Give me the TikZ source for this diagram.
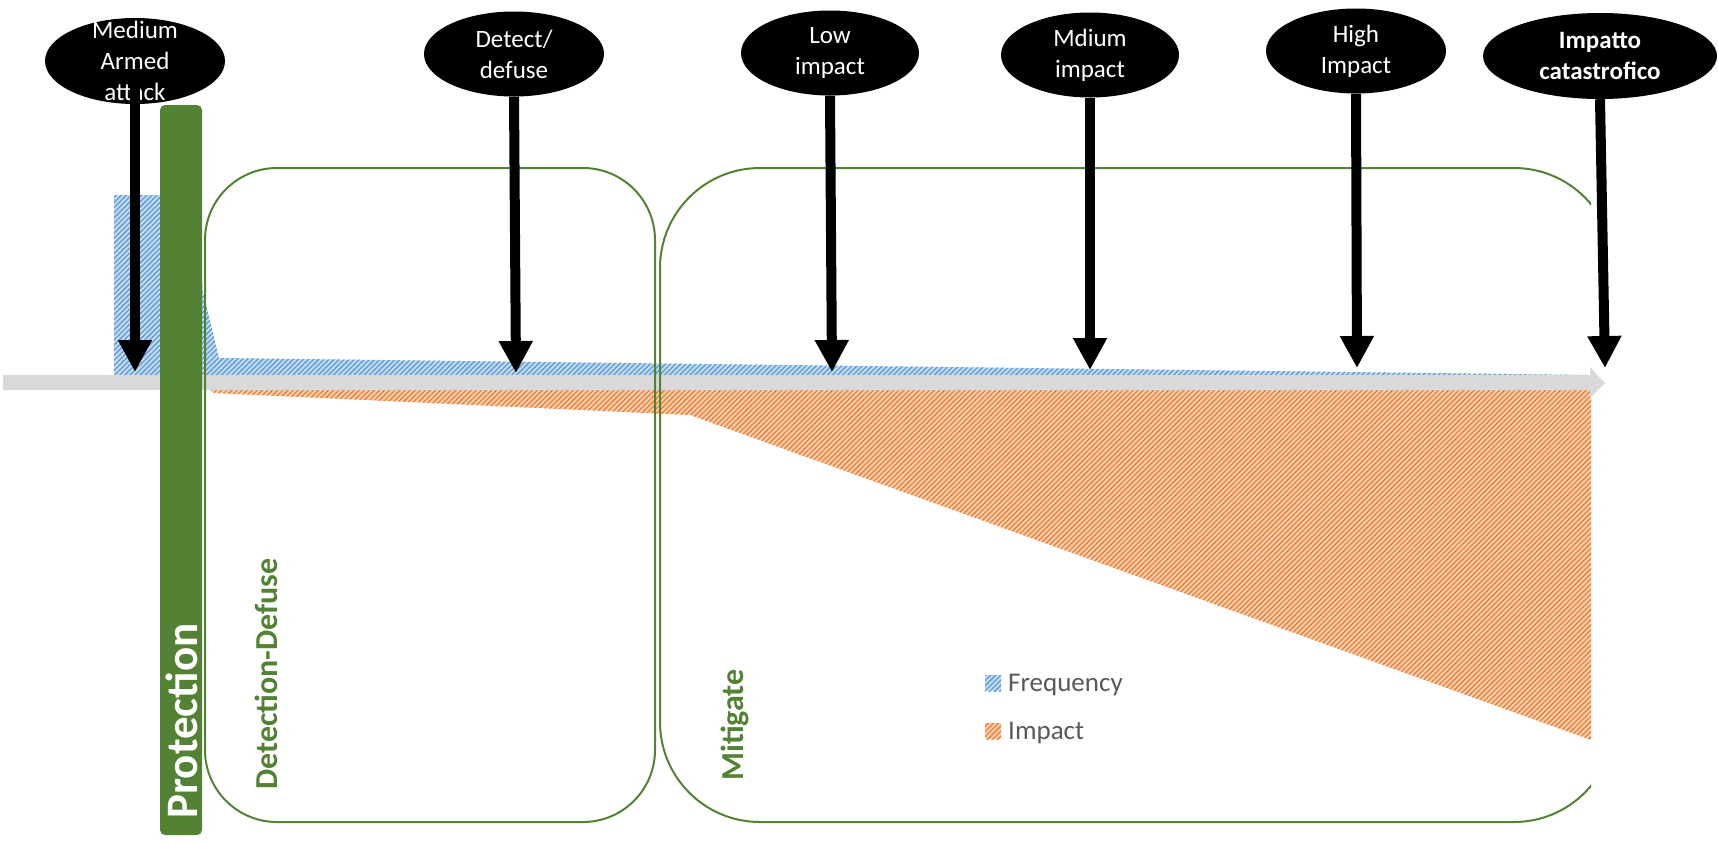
\documentclass[tikz,border=0pt]{standalone}
\usepackage{fontspec}
\setmainfont{Carlito}
\usetikzlibrary{arrows.meta,shapes.geometric,patterns.meta,calc}
\definecolor{leaf}{HTML}{548235}
\definecolor{axisgray}{HTML}{D9D9D9}
\definecolor{freqfill}{HTML}{C5DBF1}
\definecolor{freqline}{HTML}{5B9BD5}
\definecolor{impfill}{HTML}{FAD0B3}
\definecolor{impline}{HTML}{ED7D31}
\definecolor{legendgray}{HTML}{595959}

\begin{document}
\begin{tikzpicture}[x=1pt,y=-1pt,
  blob/.style={ellipse, fill=black, inner sep=0pt},
  blobtext/.style={text=white, align=center, inner sep=0pt, font=\fontsize{25}{31}\selectfont},
  pointer/.style={line width=10pt, -{Triangle[width=32pt,length=32pt]}},
  phase/.style={draw=leaf, line width=2pt},
  phaselabel/.style={text=leaf, rotate=90, inner sep=0pt, font=\bfseries\fontsize{32}{38}\selectfont},
  freqarea/.style={fill=freqfill, postaction={pattern={Lines[angle=45,distance=3.6pt,line width=1.3pt]}, pattern color=freqline}},
  imparea/.style={fill=impfill, postaction={pattern={Lines[angle=45,distance=3.6pt,line width=1.3pt]}, pattern color=impline}},
  legendtext/.style={anchor=base west, inner sep=0pt, text=legendgray, font=\fontsize{27}{32}\selectfont}
]
\useasboundingbox (0,0) rectangle (1718,841);

% frequency and impact areas of the chart
\path[freqarea] (114,383) -- (114,195) -- (196,195) -- (203,292) -- (219,358) -- (1591,375) -- (1591,383) -- cycle;
\path[imparea] (205,383) -- (1591,383) -- (1591,740) -- (690,415) -- (214,393) -- (208,388) -- cycle;

% time axis
\fill[axisgray] (3,375) -- (1590,375) -- (1590,367) -- (1605,383) -- (1590,398) -- (1590,390) -- (3,390) -- cycle;

% phase frames
\draw[phase, rounded corners=72pt] (205,168) rectangle (655,822);
\begin{scope}
  \clip (0,0) rectangle (1591,841);
  \draw[phase, rounded corners=100pt] (660,168) rectangle (1614,822);
\end{scope}

% protection bar
\fill[leaf, rounded corners=5pt] (160,105) rectangle (202,835);
\node[rotate=90, inner sep=0pt, text=white, font=\bfseries\fontsize{45}{54}\selectfont] (prot) at (182,721) {Protection};

% phase labels
\node[phaselabel] (detlabel) at (266,674) {Detection-Defuse};
\node[phaselabel] (mitlabel) at (735,725) {Mitigate};

% legend
\node[freqarea, minimum size=16pt, inner sep=0pt] (fkey) at (993,683) {};
\node[legendtext] (ftext) at (1008,691) {Frequency};
\node[imparea, minimum size=16pt, inner sep=0pt] (ikey) at (993,731) {};
\node[legendtext] (itext) at (1008,739) {Impact};

% event markers
\node[blob, minimum width=180pt, minimum height=86pt] (e1) at (135,61) {};
\node[blobtext] (t1) at (e1.center) {Medium\\Armed\\attack};
\node[blob, minimum width=180pt, minimum height=85pt] (e2) at (514,54) {};
\node[blobtext] (t2) at (e2.center) {Detect/\\defuse};
\node[blob, minimum width=178pt, minimum height=85pt] (e3) at (830,53) {};
\node[blobtext] (t3) at (e3.center) {Low\\impact};
\node[blob, minimum width=178pt, minimum height=85pt] (e4) at (1090,55) {};
\node[blobtext] (t4) at (e4.center) {Mdium\\impact};
\node[blob, minimum width=180pt, minimum height=85pt] (e5) at (1356,51) {};
\node[blobtext] (t5) at (e5.center) {High\\Impact};
\node[blob, minimum width=234pt, minimum height=86pt] (e6) at (1600,56) {};
\node[blobtext, font=\bfseries\fontsize{25}{31}\selectfont] (t6) at (e6.center) {Impatto\\catastrofico};

% points where each marker meets the axis
\coordinate (p1) at (135,372);
\coordinate (p2) at (516,373);
\coordinate (p3) at (832,372);
\coordinate (p4) at (1090,370);
\coordinate (p5) at (1357,368);
\coordinate (p6) at (1605,368);

\draw[pointer] ($(e1.south)+(0,-25)$) -- (p1);
\draw[pointer] (e2.south) -- (p2);
\draw[pointer] (e3.south) -- (p3);
\draw[pointer] (e4.south) -- (p4);
\draw[pointer] (e5.south) -- (p5);
\draw[pointer] (e6.south) -- (p6);
\end{tikzpicture}
\end{document}
